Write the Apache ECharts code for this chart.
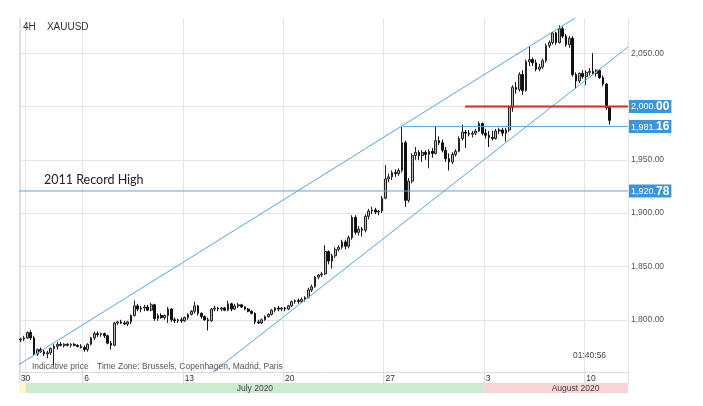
<!DOCTYPE html>
<html><head><meta charset="utf-8">
<script src="https://cdn.jsdelivr.net/npm/echarts@6/dist/echarts.min.js"></script>
<style>html,body{margin:0;padding:0;background:#fff}#c{width:703px;height:406px}</style>
</head><body><div id="c"></div>
<script>
// ---- trading days shown (4H bars per day) ----
const days = ['06-30','07-01','07-02','07-03','07-06','07-07','07-08','07-09','07-10','07-13','07-14','07-15','07-16','07-17','07-20','07-21','07-22','07-23','07-24','07-27','07-28','07-29','07-30','07-31','08-03','08-04','08-05','08-06','08-07','08-10','08-11'];
const barsPerDay = [2,6,6,5,6,6,6,6,6,6,6,6,6,6,6,6,6,6,6,6,6,6,6,6,6,6,6,6,6,6,2];
const emptySlots = 5;
const tickDays = ['06-30','07-01','07-06','07-13','07-20','07-27','08-03','08-10'];
const labelDays = ['06-30','07-06','07-13','07-20','07-27','08-03','08-10'];
const months = [
  {name:'', start:'06-30', color:'#fbf8cc'},
  {name:'July 2020', start:'07-01', color:'#cdebcd'},
  {name:'August 2020', start:'08-03', color:'#f9d4d4'}
];
// ---- OHLC [open, high, low, close] ----
const wk0630 = [[1781,1783,1779,1782],[1782,1785,1780,1783],[1783,1789,1782,1788],[1788,1790,1781,1783],[1783,1785,1767,1768],[1768,1773,1766,1772],[1772,1774,1769,1770],[1770,1772,1766,1768],[1768,1771,1764,1769],[1769,1774,1767,1773],[1773,1777,1757,1775],[1775,1779,1772,1777],[1777,1779,1775,1776],[1776,1778,1774,1777],[1777,1778,1775,1776],[1776,1778,1774,1777],[1777,1778,1775,1776],[1776,1777,1774,1775],[1775,1777,1773,1774]];
const wk0706 = [[1774,1776,1770,1772],[1772,1778,1770,1777],[1777,1784,1776,1783],[1783,1789,1781,1787],[1787,1789,1784,1786],[1786,1788,1784,1787],[1787,1788,1783,1785],[1785,1786,1777,1778],[1778,1780,1772,1776],[1776,1798,1775,1797],[1797,1799,1795,1798],[1798,1800,1796,1797],[1797,1799,1795,1796],[1796,1799,1794,1798],[1798,1805,1796,1804],[1804,1818,1803,1813],[1813,1815,1808,1810],[1810,1813,1807,1811],[1811,1814,1808,1812],[1812,1814,1808,1809],[1809,1816,1808,1814],[1814,1815,1799,1801],[1801,1806,1799,1804],[1804,1806,1801,1802],[1802,1805,1800,1804],[1804,1812,1797,1810],[1810,1811,1798,1800],[1800,1802,1797,1799],[1799,1801,1797,1800],[1800,1802,1797,1799]];
const wk0713 = [[1799,1803,1798,1802],[1802,1806,1800,1805],[1805,1809,1804,1808],[1808,1817,1806,1813],[1813,1814,1804,1806],[1806,1807,1801,1803],[1803,1804,1799,1800],[1800,1802,1790,1799],[1799,1811,1798,1810],[1810,1813,1808,1811],[1811,1812,1808,1810],[1810,1812,1808,1811],[1811,1812,1808,1809],[1809,1818,1808,1815],[1815,1816,1808,1810],[1810,1815,1809,1813],[1813,1816,1811,1814],[1814,1815,1811,1812],[1812,1813,1809,1810],[1810,1811,1807,1808],[1808,1809,1805,1806],[1806,1807,1796,1798],[1798,1800,1796,1797],[1797,1801,1796,1800],[1800,1804,1799,1803],[1803,1806,1802,1805],[1805,1810,1804,1809],[1809,1812,1807,1811],[1811,1813,1808,1810],[1810,1812,1808,1811]];
const wk0720 = [[1811,1812,1808,1810],[1810,1814,1809,1813],[1813,1818,1812,1817],[1817,1819,1815,1818],[1818,1820,1815,1817],[1817,1821,1816,1819],[1819,1822,1817,1821],[1821,1830,1820,1828],[1828,1833,1826,1831],[1831,1841,1830,1840],[1840,1843,1838,1842],[1842,1845,1840,1843],[1843,1870,1842,1864],[1864,1865,1852,1855],[1855,1862,1848,1860],[1860,1868,1858,1866],[1866,1870,1864,1868],[1868,1875,1866,1873],[1873,1875,1866,1869],[1869,1879,1867,1877],[1877,1898,1875,1896],[1896,1898,1880,1882],[1882,1888,1879,1885],[1885,1887,1878,1884],[1884,1899,1882,1897],[1897,1904,1894,1902],[1902,1906,1899,1903],[1903,1905,1899,1901],[1901,1903,1898,1902],[1902,1916,1900,1914]];
const wk0727 = [[1914,1945,1913,1932],[1932,1937,1929,1934],[1934,1940,1931,1938],[1938,1941,1934,1937],[1937,1942,1935,1940],[1940,1981,1938,1966],[1966,1968,1906,1912],[1912,1933,1910,1930],[1930,1956,1928,1954],[1954,1962,1950,1957],[1957,1959,1950,1954],[1954,1959,1948,1957],[1957,1959,1950,1955],[1955,1960,1942,1958],[1958,1961,1952,1956],[1956,1981,1955,1968],[1968,1972,1964,1966],[1966,1969,1957,1959],[1959,1962,1948,1951],[1951,1956,1940,1948],[1948,1957,1946,1955],[1955,1960,1953,1958],[1958,1972,1957,1970],[1970,1983,1968,1976],[1976,1978,1961,1975],[1975,1978,1972,1974],[1974,1977,1971,1975],[1975,1979,1973,1977],[1977,1986,1976,1984],[1984,1985,1973,1975]];
const wk0803 = [[1975,1979,1970,1973],[1973,1977,1962,1971],[1971,1977,1968,1970],[1970,1979,1969,1977],[1977,1980,1974,1978],[1978,1980,1972,1975],[1975,1980,1967,1978],[1978,2001,1976,1999],[1999,2020,1995,2018],[2018,2023,2012,2016],[2016,2032,2014,2030],[2030,2034,2011,2015],[2015,2044,2014,2042],[2042,2056,2038,2044],[2044,2046,2038,2041],[2041,2044,2033,2035],[2035,2040,2033,2037],[2037,2045,2035,2043],[2043,2059,2041,2057],[2057,2062,2055,2060],[2060,2070,2058,2069],[2069,2070,2058,2060],[2060,2076,2059,2073],[2073,2075,2064,2066],[2066,2068,2056,2058],[2058,2066,2055,2064],[2064,2066,2028,2030],[2030,2032,2017,2024],[2024,2032,2022,2031],[2031,2034,2026,2028]];
const wk0810 = [[2028,2034,2020,2032],[2032,2036,2029,2033],[2033,2050,2030,2031],[2031,2035,2028,2034],[2034,2035,2026,2027],[2027,2029,2019,2021],[2021,2022,1997,1999],[1999,2000,1983,1987]];
// ---- drawn lines (x in bar index units, y in USD) ----
const upperChannel = [[-0.5, 1758], [165.7, 2083]];
const lowerChannel = [[57.5, 1751], [181.5, 2055.8]];
const levels = [
  {value:2000.00, from:132.8, color:'#e02626', width:2, a:'2,000.', b:'00'},
  {value:1981.16, from:114.3, color:'#5ba3dc', width:1, a:'1,981.', b:'16'},
  {value:1920.78, from:-0.5,  color:'#5ba3dc', width:1, a:'1,920.', b:'78'}
];
const yMin = 1751, yMax = 2083;

// ---- build ----
const categories = [];
const dayStart = {};
days.forEach((d, i) => { dayStart[d] = categories.length; for (let k = 0; k < barsPerDay[i]; k++) categories.push(d + ' ' + k); });
for (let k = 0; k < emptySlots; k++) categories.push('pad ' + k);
const xMax = categories.length - 0.5;
const ohlc = [].concat(wk0630, wk0706, wk0713, wk0720, wk0727, wk0803, wk0810);
const candleData = ohlc.map(([o,h,l,c]) => [o,c,l,h]);
const tickIdx = new Set(tickDays.map(d => dayStart[d]));
const labelIdx = new Set(labelDays.map(d => dayStart[d]));

function fmt(v){
  const s = v.toFixed(2); const [ip, dp] = s.split('.');
  return ip.replace(/\B(?=(\d{3})+(?!\d))/g, ',') + '.' + dp;
}
const FONT = 'Liberation Sans';
const blue = '#5ba3dc';
const series = [
  {type:'candlestick', data:candleData, barWidth:2.2, silent:true,
   itemStyle:{color:'#b8b8b8', borderColor:'#222', color0:'#111', borderColor0:'#111', borderWidth:1}, z:3},
  {type:'line', xAxisIndex:1, data:upperChannel, symbol:'none', silent:true, lineStyle:{color:blue, width:1}, z:4},
  {type:'line', xAxisIndex:1, data:lowerChannel, symbol:'none', silent:true, lineStyle:{color:blue, width:1}, z:4}
];
levels.forEach(L => series.push({
  type:'line', xAxisIndex:1, data:[[L.from, L.value],[xMax, L.value]], symbol:'none', silent:true,
  lineStyle:{color:L.color, width:L.width}, z:5,
  endLabel:{show:true, distance:1, formatter:'{a|'+L.a+'}{b|'+L.b+'}', backgroundColor:'#3a96dc', padding:[1,2,0,2],
    rich:{a:{color:'#fff', fontSize:9, fontFamily:FONT}, b:{color:'#fff', fontSize:12, fontWeight:'bold', fontFamily:FONT}}}
}));

const option = {
  animation:false,
  backgroundColor:'#fff',
  grid:{left:19, right:75, top:18, bottom:34},
  xAxis:[
    {type:'category', data:categories, boundaryGap:true,
     axisLine:{show:true, lineStyle:{color:'#dcdcdc'}},
     axisTick:{show:true, interval:(i)=>tickIdx.has(i), length:11, lineStyle:{color:'#dcdcdc'}},
     splitLine:{show:true, interval:(i)=>tickIdx.has(i), lineStyle:{color:'#e4e4e4'}},
     axisLabel:{interval:(i)=>labelIdx.has(i), formatter:(v)=>String(parseInt(v.slice(3,5),10)),
       align:'left', margin:2, fontSize:8.5, color:'#333', fontFamily:FONT}},
    {type:'value', min:-0.5, max:xMax, show:false}
  ],
  yAxis:{type:'value', position:'right', min:yMin, max:yMax, splitNumber:6, scale:true,
    axisLine:{show:true, lineStyle:{color:'#dcdcdc'}}, axisTick:{show:false},
    splitLine:{show:true, showMinLine:false, showMaxLine:false, lineStyle:{color:'#e4e4e4'}},
    axisLabel:{showMinLabel:false, showMaxLabel:false, margin:3, fontSize:8.5, color:'#555', fontFamily:FONT,
      formatter:(v)=> (v===2000 ? '' : fmt(v))}},
  series:series
};
const chart = echarts.init(document.getElementById('c'));
chart.setOption(option);

// month band below date row
const px = v => chart.convertToPixel({xAxisIndex:1}, v);
const graphics = [];
months.forEach((m, k) => {
  const x0 = px(dayStart[m.start] - 0.5);
  const x1 = k + 1 < months.length ? px(dayStart[months[k+1].start] - 0.5) : px(xMax);
  graphics.push({type:'rect', shape:{x:x0, y:383, width:x1-x0, height:10}, style:{fill:m.color}, silent:true});
  if (m.name) {
    const cx = k + 1 < months.length ? (x0 + x1) / 2 : (x0 + 667) / 2;
    graphics.push({type:'text', x:cx, y:388.5, style:{text:m.name, fill:'#444', fontSize:8.5, fontFamily:FONT, align:'center', verticalAlign:'middle'}, silent:true});
  }
});
graphics.push({type:'text', x:23, y:27, style:{text:'4H    XAUUSD', fill:'#333', fontSize:10, fontFamily:FONT, verticalAlign:'middle'}, z:10});
graphics.push({type:'text', x:44, y:180, style:{text:'2011 Record High', fill:'#222', fontSize:12.5, fontFamily:'Lato', verticalAlign:'middle'}, z:10});
graphics.push({type:'text', x:32, y:366.5, style:{text:'Indicative price', fill:'#555', fontSize:8.5, fontFamily:FONT, verticalAlign:'middle'}, z:10});
graphics.push({type:'text', x:97, y:366.5, style:{text:'Time Zone: Brussels, Copenhagen, Madrid, Paris', fill:'#555', fontSize:8.5, fontFamily:FONT, verticalAlign:'middle'}, z:10});
graphics.push({type:'text', x:573, y:356, style:{text:'01:40:56', fill:'#444', fontSize:8.5, fontFamily:FONT, verticalAlign:'middle'}, z:10});
chart.setOption({graphic:graphics});
</script></body></html>
